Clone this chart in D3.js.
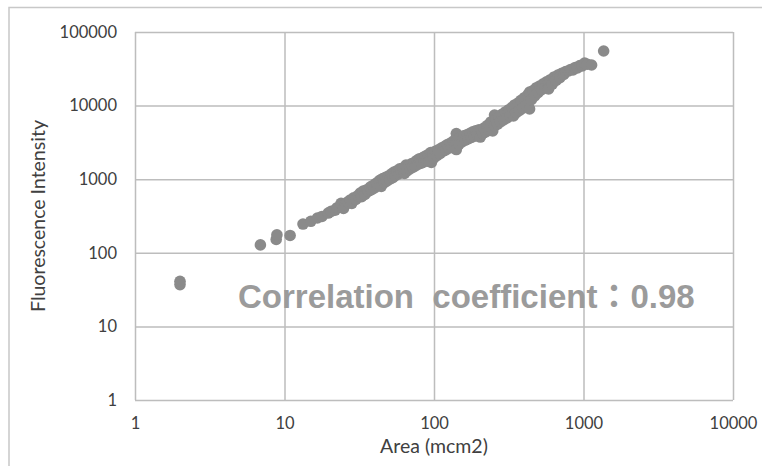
<!DOCTYPE html>
<html>
<head>
<meta charset="utf-8">
<script src="https://cdn.jsdelivr.net/npm/d3@7"></script>
<style>
    body { margin: 0; background: #ffffff; }
    #scatter { width: 762px; height: 466px; }
</style>
</head>
<body>
<div id="scatter"></div>
<script>
//-------------------------------------------------------
// data: [area (mcm2), fluorescence intensity]
//-------------------------------------------------------
const outliers = [
    [2.0, 37], [2.0, 41], [6.9, 128], [8.8, 152], [8.9, 176], [10.9, 172]
];

const cloud = [
    [13.3, 246], [15.0, 268], [16.6, 297], [17.8, 312], [19.6, 347], [20.5, 365],
    [21.8, 380], [22.5, 410], [23.6, 419], [23.9, 470], [24.8, 400], [25.6, 455],
    [26.4, 490], [27.5, 522], [28.2, 470], [29.0, 560], [30.0, 530], [31.0, 600],
    [32.1, 649], [32.8, 580], [33.6, 690], [34.5, 620], [35.5, 720], [36.4, 690],
    [37.5, 784], [38.2, 720], [39.0, 820], [40.0, 760], [41.0, 880], [42.0, 830],
    [43.0, 950], [43.8, 975], [44.4, 800], [45.5, 1020], [46.5, 900], [47.5, 1060],
    [48.5, 950], [49.5, 1100], [50.5, 1000], [52, 1180], [53, 1050], [54, 1250],
    [55, 1120], [56.5, 1300], [58, 1180], [59, 1380], [60.5, 1250], [62, 1420],
    [63.5, 1200], [65, 1560], [66, 1300], [67.5, 1500], [69, 1380], [70.5, 1620],
    [72, 1450], [74, 1700], [75, 1520], [77, 1800], [78.5, 1600], [80, 1900],
    [82, 1650], [84, 1950], [85.5, 1720], [87, 2050], [89, 1800], [91, 2150],
    [93, 1750], [95, 2300], [96, 1690], [98, 2200], [100, 1950], [102, 2400],
    [105, 2100], [107, 2500], [110, 2250], [112, 2650], [115, 2400], [118, 2800],
    [120, 2500], [123, 2950], [126, 2650], [129, 3100], [132, 2750], [135, 3300],
    [138, 2900], [141, 4180], [141, 2530], [144, 3500], [147, 3000], [150, 3700],
    [154, 3200], [158, 3900], [162, 3400], [166, 4000], [170, 3550], [174, 4200],
    [178, 3700], [182, 4400], [186, 3850], [190, 4550], [195, 4000], [200, 4700],
    [204, 3740], [208, 4660], [212, 4200], [217, 5000], [222, 4400], [228, 5400],
    [234, 4700], [240, 6000], [247, 4520], [254, 7450], [254, 5300], [260, 6500],
    [266, 5600], [272, 7000], [278, 6000], [285, 7600], [292, 6400], [300, 8200],
    [308, 6800], [316, 8800], [324, 7300], [332, 9400], [340, 7220], [346, 10200],
    [355, 8000], [364, 10800], [373, 8600], [382, 11800], [392, 9200], [402, 12800],
    [412, 9900], [424, 14000], [436, 9000], [436, 15300], [448, 12000], [460, 16000],
    [472, 13500], [484, 17500], [496, 15000], [510, 18500], [524, 16500], [538, 19800],
    [552, 17500], [566, 21000], [584, 20900], [584, 16800], [600, 22500], [618, 19500],
    [636, 24500], [655, 22000], [675, 26000], [695, 24000], [716, 27500], [738, 26500],
    [760, 29000], [794, 29500], [820, 31000], [850, 30500], [880, 33000], [910, 32500],
    [945, 35000], [980, 34500], [1017, 37900], [1060, 36500], [1133, 35600], [1364, 55200]
];

const xTicks = [1, 10, 100, 1000, 10000];
const yTicks = [1, 10, 100, 1000, 10000, 100000];
const xTitle = "Area (mcm2)";
const yTitle = "Fluorescence Intensity";
const note = "Correlation  coefficient：0.98";
//-------------------------------------------------------------

//set properties
let properties = {
    width: 762,
    height: 466,
    margin: {
        top: 32,
        right: 29,
        bottom: 66,
        left: 135
    },
    dot: {
        r: 5.8
    },
    color: {
        grid: "#bdbdbd",
        frame: "#c8c8c8",
        dot: "#8a8a8a",
        label: "#404040",
        note: "#9b9b9b"
    }
}

properties.boundedWidth = properties.width - properties.margin.left - properties.margin.right;
properties.boundedHeight = properties.height - properties.margin.top - properties.margin.bottom;

//add svg and bounds
const svg = d3.select("#scatter")
    .append("svg")
    .attr("width", properties.width)
    .attr("height", properties.height);

// outer chart frame (runs off the right and bottom edge)
svg.append("rect")
    .attr("x", 9)
    .attr("y", 7.5)
    .attr("width", 900)
    .attr("height", 600)
    .attr("fill", "none")
    .attr("stroke", properties.color.frame)
    .attr("stroke-width", 1.5);

const bounds = svg.append("g")
    .attr("id", "bounds")
    .attr("transform", `translate(${properties.margin.left},${properties.margin.top})`);

//scales
const x = d3.scaleLog()
    .domain([1, 10000])
    .range([0, properties.boundedWidth]);

const y = d3.scaleLog()
    .domain([1, 100000])
    .range([properties.boundedHeight, 0]);

//axes with grid lines
const xAxis = bounds.append("g")
    .attr("class", "x-axis")
    .attr("transform", `translate(0,${properties.boundedHeight})`)
    .call(d3.axisBottom(x)
        .tickValues(xTicks)
        .tickFormat(d3.format("d"))
        .tickSizeInner(-properties.boundedHeight)
        .tickSizeOuter(0)
        .tickPadding(17));

const yAxis = bounds.append("g")
    .attr("class", "y-axis")
    .call(d3.axisLeft(y)
        .tickValues(yTicks)
        .tickFormat(d3.format("d"))
        .tickSizeInner(-properties.boundedWidth)
        .tickSizeOuter(0)
        .tickPadding(18));

bounds.selectAll(".domain").remove();
bounds.selectAll(".tick line")
    .attr("stroke", properties.color.grid)
    .attr("stroke-width", 1.5);
bounds.selectAll(".tick text")
    .attr("fill", properties.color.label)
    .attr("font-family", "Lato, 'Open Sans', sans-serif")
    .attr("font-size", "16.5px");

//points
bounds.append("g")
    .attr("id", "dots")
    .selectAll("circle")
    .data(outliers.concat(cloud))
    .enter()
    .append("circle")
    .attr("cx", d => x(d[0]))
    .attr("cy", d => y(d[1]))
    .attr("r", properties.dot.r)
    .attr("fill", properties.color.dot);

//axis titles
svg.append("text")
    .attr("x", properties.margin.left + properties.boundedWidth / 2)
    .attr("y", 453)
    .attr("text-anchor", "middle")
    .attr("font-family", "Lato, 'Open Sans', sans-serif")
    .attr("font-size", "19.5px")
    .attr("fill", properties.color.label)
    .text(xTitle);

svg.append("text")
    .attr("transform", `translate(45,${properties.margin.top + properties.boundedHeight / 2}) rotate(-90)`)
    .attr("text-anchor", "middle")
    .attr("font-family", "Lato, 'Open Sans', sans-serif")
    .attr("font-size", "19.5px")
    .attr("fill", properties.color.label)
    .text(yTitle);

//correlation note
svg.append("text")
    .attr("x", 238)
    .attr("y", 308)
    .attr("font-family", "'Liberation Sans', 'Noto Sans CJK JP', sans-serif")
    .attr("font-weight", "bold")
    .attr("font-size", "33px")
    .attr("fill", properties.color.note)
    .style("white-space", "pre")
    .text(note);
</script>
</body>
</html>
